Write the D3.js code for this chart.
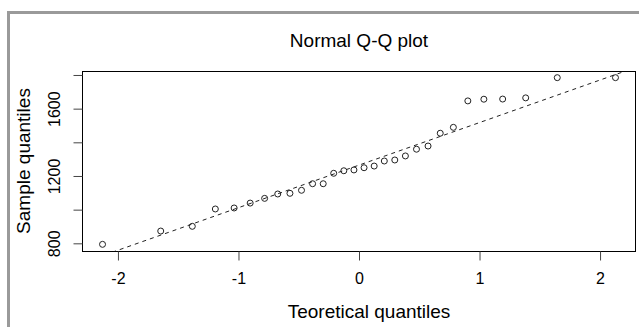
<!DOCTYPE html>
<html>
<head>
<meta charset="utf-8">
<script src="https://cdn.jsdelivr.net/npm/d3@7/dist/d3.min.js"></script>
<style>
  html, body { margin: 0; padding: 0; background: #fff; }
  svg { display: block; }
  text { font-family: "Liberation Sans", Arial, sans-serif; fill: #000; }
</style>
</head>
<body>
<svg id="chart" width="639" height="327"></svg>
<script>
// Normal quantiles for n = 30 (ppoints (i - 0.5) / n)
const theoretical = [
  -2.128, -1.645, -1.383, -1.192, -1.036, -0.903, -0.783, -0.674, -0.573, -0.477,
  -0.385, -0.297, -0.210, -0.126, -0.042, 0.042, 0.126, 0.210, 0.297, 0.385,
  0.477, 0.573, 0.674, 0.783, 0.903, 1.036, 1.192, 1.383, 1.645, 2.128
];
// Ordered sample values
const sample = [
  794, 873, 901, 1004, 1010, 1039, 1067, 1093, 1097, 1115,
  1154, 1154, 1216, 1231, 1236, 1249, 1259, 1289, 1295, 1319,
  1359, 1378, 1454, 1489, 1646, 1656, 1657, 1664, 1784, 1784
];
const xTicks = [-2, -1, 0, 1, 2];
const yTicks = [800, 1000, 1200, 1400, 1600, 1800];
const yTickLabels = [800, 1200, 1600];

const svg = d3.select("#chart");
const box = { left: 82, right: 636, top: 71, bottom: 251 };

// Figure frame
svg.append("rect")
  .attr("x", 8.5).attr("y", 12.5)
  .attr("width", 700).attr("height", 400)
  .attr("fill", "none")
  .attr("stroke", "#9a9a9a")
  .attr("stroke-width", 3);

// Axis limits extended by 4% on each side
function extend(ext) {
  const r = ext[1] - ext[0];
  return [ext[0] - 0.04 * r, ext[1] + 0.04 * r];
}
const x = d3.scaleLinear().domain(extend(d3.extent(theoretical))).range([box.left, box.right]);
const y = d3.scaleLinear().domain(extend(d3.extent(sample))).range([box.bottom, box.top]);

// Reference line through the first and third quartiles
const q1 = d3.quantile(sample, 0.25), q3 = d3.quantile(sample, 0.75);
const z1 = -0.6744898, z3 = 0.6744898;
const slope = (q3 - q1) / (z3 - z1);
const intercept = q1 - slope * z1;

svg.append("clipPath").attr("id", "plot-clip")
  .append("rect")
  .attr("x", box.left).attr("y", box.top)
  .attr("width", box.right - box.left).attr("height", box.bottom - box.top);

const xd = x.domain();
svg.append("line")
  .attr("clip-path", "url(#plot-clip)")
  .attr("x1", x(xd[0])).attr("y1", y(intercept + slope * xd[0]))
  .attr("x2", x(xd[1])).attr("y2", y(intercept + slope * xd[1]))
  .attr("stroke", "#222")
  .attr("stroke-width", 1)
  .attr("stroke-dasharray", "4,4");

// Points
svg.append("g").selectAll("circle")
  .data(sample)
  .join("circle")
  .attr("cx", (d, i) => x(theoretical[i]))
  .attr("cy", d => y(d))
  .attr("r", 3)
  .attr("fill", "none")
  .attr("stroke", "#222")
  .attr("stroke-width", 1);

// Plot box
svg.append("rect")
  .attr("x", box.left + 0.5).attr("y", box.top + 0.5)
  .attr("width", box.right - box.left - 1).attr("height", box.bottom - box.top)
  .attr("fill", "none")
  .attr("stroke", "#000")
  .attr("stroke-width", 1);

// X axis
const xAxis = d3.axisBottom(x).tickValues(xTicks).tickSize(9).tickPadding(12)
  .tickFormat(d => d3.format("d")(d).replace("−", "-"));
const gx = svg.append("g").attr("transform", `translate(0,${box.bottom + 0.5})`).call(xAxis);
gx.select(".domain").remove();
gx.selectAll(".tick line").attr("stroke", "#444");
gx.selectAll(".tick text").attr("font-size", 16).attr("fill", "#000")
  .attr("font-family", "Liberation Sans, Arial, sans-serif");

// Y axis
const yAxis = d3.axisLeft(y).tickValues(yTicks).tickSize(9)
  .tickFormat(d => yTickLabels.includes(d) ? d : "");
const gy = svg.append("g").attr("transform", `translate(${box.left + 0.5},0)`).call(yAxis);
gy.select(".domain").remove();
gy.selectAll(".tick line").attr("stroke", "#444");
gy.selectAll(".tick text")
  .attr("font-size", 16).attr("fill", "#000")
  .attr("font-family", "Liberation Sans, Arial, sans-serif")
  .attr("x", null).attr("dy", null)
  .attr("text-anchor", "middle")
  .attr("transform", "translate(-22.5,0) rotate(-90)");

// Titles
svg.append("text")
  .attr("x", (box.left + box.right) / 2).attr("y", 46.5)
  .attr("text-anchor", "middle").attr("font-size", 19)
  .text("Normal Q-Q plot");

svg.append("text")
  .attr("x", 369).attr("y", 318)
  .attr("text-anchor", "middle").attr("font-size", 19)
  .text("Teoretical quantiles");

svg.append("text")
  .attr("transform", `translate(29.5,${(box.top + box.bottom) / 2}) rotate(-90)`)
  .attr("text-anchor", "middle").attr("font-size", 19)
  .text("Sample quantiles");
</script>
</body>
</html>
